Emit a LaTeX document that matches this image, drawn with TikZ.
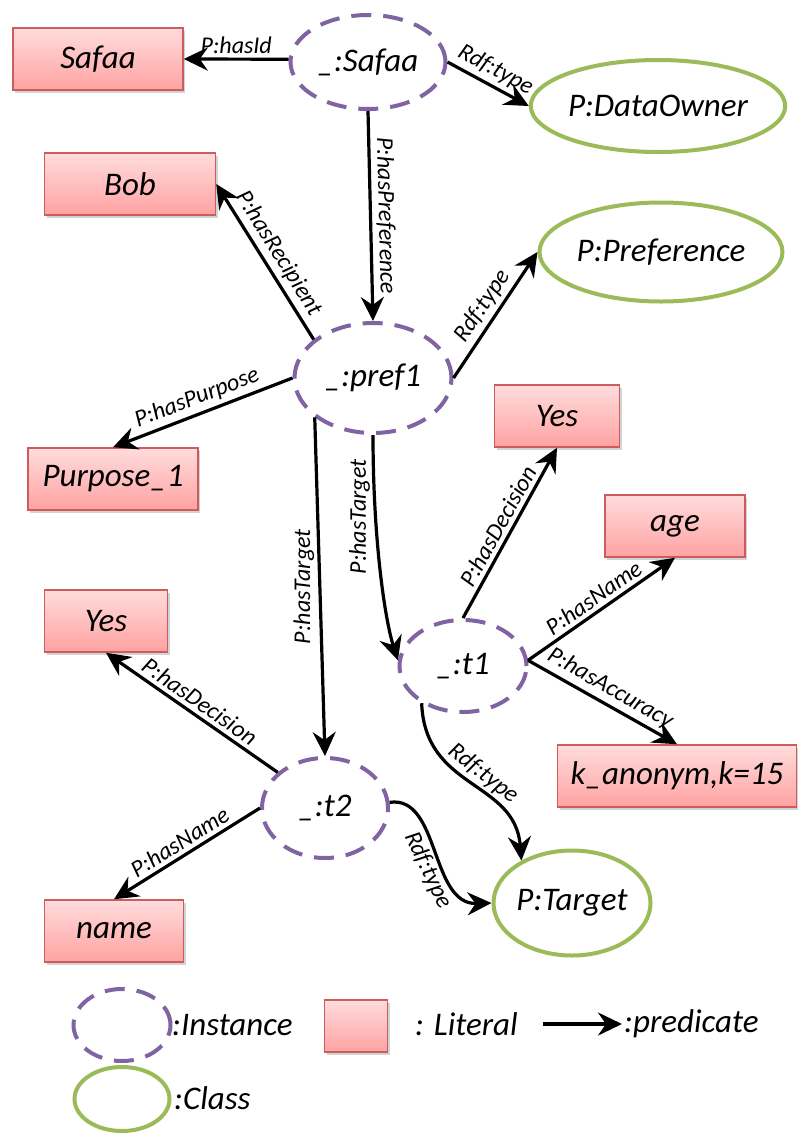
\documentclass[tikz,border=0pt]{standalone}
\usepackage{fontspec}
\setmainfont{Carlito}
\usetikzlibrary{shapes.geometric,arrows.meta,shadows}

\definecolor{instcol}{HTML}{8064A2}
\definecolor{clscol}{HTML}{9BBB59}
\definecolor{litborder}{HTML}{CD5C5C}
\definecolor{littop}{HTML}{FFDCDC}
\definecolor{litbot}{HTML}{FFA2A2}

\newcommand\nodefont{\fontsize{33}{36}\selectfont\itshape}
\newcommand\lblfont{\fontsize{24}{26}\selectfont\itshape}

\tikzset{
	inst/.style={ellipse, draw=instcol, line width=4pt, dash pattern=on 20pt off 12pt, inner sep=0pt, font=\nodefont},
	cls/.style={ellipse, draw=clscol, line width=4pt, inner sep=0pt, font=\nodefont},
	lit/.style={rectangle, draw=litborder, line width=1.5pt, top color=littop, bottom color=litbot, inner sep=0pt, minimum height=62pt, font=\nodefont,
		drop shadow={opacity=.35, shadow xshift=2pt, shadow yshift=-3pt}},
	pred/.style={-{Stealth[length=24pt,width=23pt,inset=8pt]}, line width=3.2pt},
	lbl/.style={font=\lblfont, inner sep=4pt, sloped, above},
	vlbl/.style={font=\lblfont, inner sep=4pt, rotate=90, anchor=south}
}

\begin{document}
\begin{tikzpicture}[x=1pt, y=-1pt]
	\useasboundingbox (0,0) rectangle (798,1133);
	% literals
	\foreach \nm/\x/\y/\w/\txt in {safaaLit/98/59/170/Safaa, bob/130/184/171/Bob, purpose/113/479/170/Purpose\_1,
		yesA/557/416/125/Yes, age/675/526/140/age, yesB/106/621/123/Yes, kanon/677/776/239/{k\_anonym,k=15}, name/114/931/139/name}
		{
			\node[lit, minimum width=\w pt] (\nm) at (\x,\y) {\txt};
		}
	% instances
	\foreach \nm/\x/\y/\w/\h/\txt in {safaa/368/62/155/94/Safaa, pref1/373/378/157/110/pref1, t1/463/666/127/92/t1, t2/325/808/126/100/t2}
		{
			\node[inst, minimum width=\w pt, minimum height=\h pt] (\nm) at (\x,\y) {\_:\txt};
		}
	% classes
	\foreach \nm/\x/\y/\w/\h/\txt in {owner/658/106/250/92/DataOwner, pref/661/252/243/99/Preference, target/572/903/155/105/Target}
		{
			\node[cls, minimum width=\w pt, minimum height=\h pt] (\nm) at (\x,\y) {P:\txt};
		}
	% predicates
	\foreach \a/\b/\txt in {safaa.178/safaaLit.east/P:hasId, safaa.east/owner.west/Rdf:type, safaa.south/pref1.north/P:hasPreference,
		pref1.147/bob.east/P:hasRecipient, pref1.east/pref.west/Rdf:type, pref1.west/purpose.north/P:hasPurpose,
		t1.north/yesA.south/P:hasDecision, t1.5/age.south/P:hasName, t1.5/kanon.north/P:hasAccuracy,
		t2.143/yesB.south/P:hasDecision, t2.west/name.north/P:hasName}
		{
			\draw[pred] (\a) -- (\b) node[lbl, midway] {\txt};
		}
	\draw[pred] (pref1.214) -- (t2.north) node[vlbl, midway] {P:hasTarget};
	\draw[pred] (pref1.south) .. controls (373,540) and (385,620) .. (t1.175) node[vlbl, pos=.28] {P:hasTarget};
	\draw[pred] (t1.222) .. controls (425,790) and (515,780) .. (target.140) node[lbl, pos=.52] {Rdf:type};
	\draw[pred] (t2.5) .. controls (440,795) and (430,905) .. (target.west) node[lbl, below, pos=.58] {Rdf:type};
	% legend
	\node[inst, minimum width=97pt, minimum height=72pt] (legInst) at (122,1025) {};
	\node[lit, minimum width=63pt, minimum height=52pt] (legLit) at (356,1026) {};
	\node[cls, minimum width=95pt, minimum height=64pt] (legCls) at (122,1099) {};
	\coordinate (legA) at (543,1024);
	\coordinate (legB) at (622,1024);
	\draw[pred] (legA) -- (legB);
	\node[font=\nodefont, anchor=west, inner sep=0pt] (txtInst) at (172,1025) {:Instance};
	\node[font=\nodefont, anchor=west, inner sep=0pt] (txtLit) at (415,1024) {: Literal};
	\node[font=\nodefont, anchor=west, inner sep=0pt] (txtPred) at (624,1024) {:predicate};
	\node[font=\nodefont, anchor=west, inner sep=0pt] (txtCls) at (174,1098) {:Class};
\end{tikzpicture}
\end{document}
